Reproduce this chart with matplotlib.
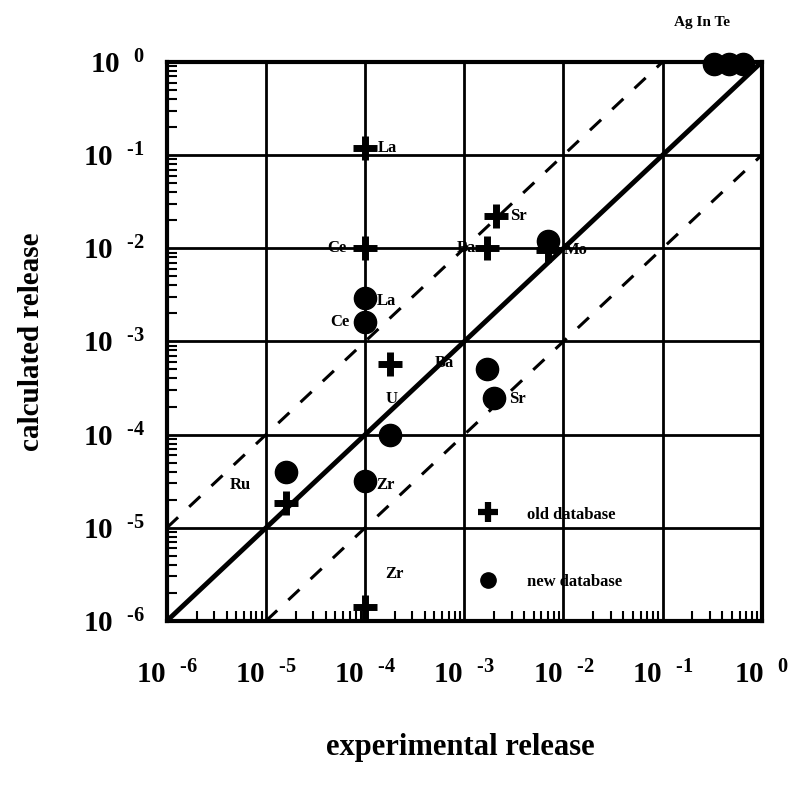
import numpy as np
import matplotlib
matplotlib.use('Agg')
import matplotlib.pyplot as plt
from matplotlib.ticker import LogLocator, FixedLocator, NullFormatter

plt.rcParams['font.family'] = ['Liberation Serif', 'DejaVu Serif']
plt.rcParams['font.weight'] = 'bold'
plt.rcParams['mathtext.fontset'] = 'custom'
plt.rcParams['mathtext.rm'] = 'Liberation Serif:bold'
plt.rcParams['mathtext.bf'] = 'Liberation Serif:bold'
plt.rcParams['mathtext.default'] = 'bf'

# ---------------------------
# Data (experimental vs calculated release)
# ---------------------------
old_names = ['La', 'Ce', 'Sr', 'Ba', 'Mo', 'U', 'Ru', 'Zr']
old_exp = [1.0e-4, 1.0e-4, 2.1e-3, 1.7e-3, 7.0e-3, 1.8e-4, 1.6e-5, 1.0e-4]
old_calc = [1.2e-1, 1.0e-2, 2.2e-2, 1.0e-2, 9.5e-3, 5.7e-4, 1.85e-5, 1.4e-6]

new_names = ['La', 'Ce', 'Mo', 'Ba', 'Sr', 'U', 'Ru', 'Zr', 'Ag', 'In', 'Te']
new_exp = [1.0e-4, 1.0e-4, 7.0e-3, 1.7e-3, 2.0e-3, 1.8e-4, 1.6e-5, 1.0e-4, 0.33, 0.47, 0.65]
new_calc = [2.9e-3, 1.6e-3, 1.2e-2, 5.1e-4, 2.5e-4, 1.0e-4, 4.0e-5, 3.2e-5, 0.95, 0.95, 0.95]

decades = [1e-6, 1e-5, 1e-4, 1e-3, 1e-2, 1e-1, 1e0]
exponents = ['-6', '-5', '-4', '-3', '-2', '-1', '0']
tick_labels = [r'$10^{\ \ \text{%s}}$' % e for e in exponents]

# element labels: (text, x, y, ha)
point_labels = [
    ('La', 1.35e-4, 1.2e-1, 'left'),
    ('Ce', 6.5e-5, 1.0e-2, 'right'),
    ('Ba', 1.3e-3, 1.0e-2, 'right'),
    ('Sr', 2.9e-3, 2.2e-2, 'left'),
    ('Mo', 1.0e-2, 9.5e-3, 'left'),
    ('La', 1.3e-4, 2.7e-3, 'left'),
    ('Ce', 7.0e-5, 1.6e-3, 'right'),
    ('Ba', 5.0e-4, 5.8e-4, 'left'),
    ('U', 1.6e-4, 2.4e-4, 'left'),
    ('Sr', 2.8e-3, 2.4e-4, 'left'),
    ('Ru', 5.5e-6, 2.9e-5, 'center'),
    ('Zr', 1.3e-4, 2.9e-5, 'left'),
    ('Zr', 1.6e-4, 3.2e-6, 'left'),
]

# ---------------------------
# Plot
# ---------------------------
fig = plt.figure(figsize=(7.91, 7.94), dpi=100)
ax = fig.add_axes([0.211, 0.218, 0.752, 0.704])
ax.set_xscale('log')
ax.set_yscale('log')
ax.set_xlim(1e-6, 1e0)
ax.set_ylim(1e-6, 1e0)

for d in decades[1:-1]:
    ax.axvline(d, color='black', lw=2, zorder=1)
    ax.axhline(d, color='black', lw=2, zorder=1)

ax.plot([1e-6, 1e0], [1e-6, 1e0], color='black', lw=3.5, zorder=2)
ax.plot([1e-6, 1e-1], [1e-5, 1e0], color='black', lw=2.2, ls=(0, (5, 5)), zorder=2)
ax.plot([1e-5, 1e0], [1e-6, 1e-1], color='black', lw=2.2, ls=(0, (5, 5)), zorder=2)

ax.plot(old_exp, old_calc, ls='none', marker='+', ms=17, mew=5, color='black',
        zorder=3, clip_on=False)
ax.plot(new_exp, new_calc, ls='none', marker='o', ms=16, color='black',
        zorder=3, clip_on=False)

for txt, x, y, ha in point_labels:
    ax.text(x, y, txt, ha=ha, va='center', fontsize=12, fontweight='bold', zorder=4)

ax.text(0.9, 1.07, 'Ag In Te', transform=ax.transAxes, ha='center', va='center',
        fontsize=11, fontweight='bold')

# legend drawn inside the axes
ax.plot([0.54], [0.195], transform=ax.transAxes, marker='+', ms=14, mew=4.5,
        color='black', ls='none', zorder=4)
ax.plot([0.54], [0.073], transform=ax.transAxes, marker='o', ms=11,
        color='black', ls='none', zorder=4)
ax.text(0.605, 0.19, 'old database', transform=ax.transAxes, va='center',
        fontsize=12, fontweight='bold', zorder=4)
ax.text(0.605, 0.07, 'new database', transform=ax.transAxes, va='center',
        fontsize=12, fontweight='bold', zorder=4)

# ticks
ax.xaxis.set_major_locator(FixedLocator(decades))
ax.yaxis.set_major_locator(FixedLocator(decades))
ax.set_xticklabels(tick_labels)
ax.set_yticklabels(tick_labels)
ax.xaxis.set_minor_locator(LogLocator(base=10, subs=np.arange(2, 10)))
ax.yaxis.set_minor_locator(LogLocator(base=10, subs=np.arange(2, 10)))
ax.xaxis.set_minor_formatter(NullFormatter())
ax.yaxis.set_minor_formatter(NullFormatter())
ax.tick_params(which='major', length=0, labelsize=21)
ax.tick_params(axis='x', which='major', pad=29)
ax.tick_params(axis='y', which='major', pad=16)
ax.tick_params(which='minor', direction='in', length=7, width=1.5,
               top=False, right=False)

for s in ax.spines.values():
    s.set_linewidth(3)

fig.text(0.582, 0.058, 'experimental release', ha='center', va='center',
         fontsize=22, fontweight='bold')
fig.text(0.04, 0.57, 'calculated release', ha='center', va='center',
         rotation=90, fontsize=21, fontweight='bold')

fig.savefig('out.png', dpi=100)
